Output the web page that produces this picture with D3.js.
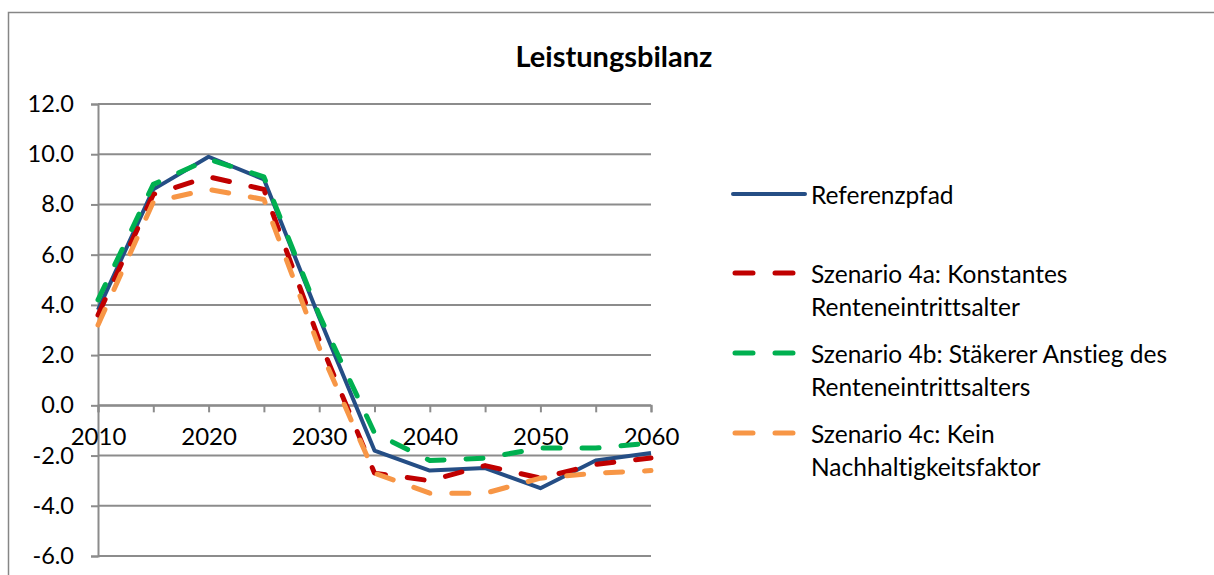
<!DOCTYPE html>
<html>
<head>
<meta charset="utf-8">
<script src="https://cdn.jsdelivr.net/npm/d3@7"></script>
<style>
  html, body { margin: 0; padding: 0; background: #fff; }
  svg { display: block; }
  text { font-family: Lato, "Open Sans", sans-serif; fill: #000; font-variant-ligatures: none; }
</style>
</head>
<body>
<svg id="chart" width="1214" height="575"></svg>
<script>
const years = [2010, 2015, 2020, 2025, 2030, 2035, 2040, 2045, 2050, 2055, 2060];
const xLabels = ["2010", "", "2020", "", "2030", "", "2040", "", "2050", "", "2060"];
const yTicks = [-6, -4, -2, 0, 2, 4, 6, 8, 10, 12];

const referenzpfad = [3.8, 8.6, 9.9, 9.0, 3.5, -1.8, -2.6, -2.5, -3.3, -2.2, -1.9];
const szenario4a   = [3.6, 8.4, 9.1, 8.6, 2.6, -2.7, -3.0, -2.4, -2.9, -2.35, -2.1];
const szenario4b   = [4.2, 8.8, 9.8, 9.1, 3.6, -1.1, -2.2, -2.1, -1.7, -1.7, -1.5];
const szenario4c   = [3.2, 8.1, 8.6, 8.2, 2.3, -2.7, -3.5, -3.5, -2.9, -2.7, -2.6];

const seriesNames = [
  ["Referenzpfad"],
  ["Szenario 4a: Konstantes", "Renteneintrittsalter"],
  ["Szenario 4b: Stäkerer Anstieg des", "Renteneintrittsalters"],
  ["Szenario 4c: Kein", "Nachhaltigkeitsfaktor"]
];
const seriesValues = [referenzpfad, szenario4a, szenario4b, szenario4c];
const seriesColors = ["#254E85", "#C00000", "#00B050", "#F79646"];
const seriesDashed = [false, true, true, true];

(function () {
const svg = d3.select("#chart");

// outer chart border
svg.append("rect").attr("x", 8.5).attr("y", 12.5).attr("width", 1214).attr("height", 600)
  .attr("fill", "#fff").attr("stroke", "#868686").attr("stroke-width", 1.5);

const pLeft = 98, pRight = 651, pTop = 104, pBottom = 556;

const x = d3.scalePoint().domain(years).range([pLeft, pRight]).padding(0);
const y = d3.scaleLinear().domain([-6, 12]).range([pBottom, pTop]);

// title
svg.append("text").attr("x", 614).attr("y", 55)
  .attr("text-anchor", "middle").attr("dominant-baseline", "central")
  .style("font-size", "29px").style("font-weight", "bold")
  .text("Leistungsbilanz");

// gridlines
svg.append("g").selectAll("line").data(yTicks).join("line")
  .attr("x1", pLeft).attr("x2", pRight)
  .attr("y1", d => y(d)).attr("y2", d => y(d))
  .attr("stroke", "#8c8c8c").attr("stroke-width", 2);

// y axis
const yAxis = svg.append("g").attr("transform", `translate(${pLeft},0)`)
  .call(d3.axisLeft(y).tickValues(yTicks).tickSize(7).tickPadding(17).tickFormat(d => d.toFixed(1)));
yAxis.select(".domain").attr("stroke", "#8c8c8c").attr("stroke-width", 2);
yAxis.selectAll(".tick line").attr("stroke", "#8c8c8c").attr("stroke-width", 2);
yAxis.selectAll(".tick text").style("font-size", "23.5px").style("font-family", "Lato, sans-serif").attr("fill", "#000");

// x axis at 0
const xAxis = svg.append("g").attr("transform", `translate(0,${y(0)})`)
  .call(d3.axisBottom(x).tickSize(7).tickPadding(16).tickFormat((d, i) => xLabels[i]));
xAxis.select(".domain").attr("stroke", "#8c8c8c").attr("stroke-width", 2);
xAxis.selectAll(".tick line").attr("stroke", "#8c8c8c").attr("stroke-width", 2);
xAxis.selectAll(".tick text").style("font-size", "24px").style("font-family", "Lato, sans-serif").attr("fill", "#000");

// lines
const line = d3.line().x((d, i) => x(years[i])).y(d => y(d));
seriesValues.forEach((vals, k) => {
  svg.append("path").datum(vals)
    .attr("d", line)
    .attr("fill", "none")
    .attr("stroke", seriesColors[k])
    .attr("stroke-width", seriesDashed[k] ? 5 : 4)
    .attr("stroke-linecap", seriesDashed[k] ? "round" : "butt")
    .attr("stroke-linejoin", "round")
    .attr("stroke-dasharray", seriesDashed[k] ? "17,22" : null);
});

// legend
const legendY = [194, 273, 353, 433];
const legend = svg.append("g");
seriesNames.forEach((lines, k) => {
  const ly = legendY[k];
  if (seriesDashed[k]) {
    legend.append("line").attr("x1", 735).attr("x2", 795).attr("y1", ly).attr("y2", ly)
      .attr("stroke", seriesColors[k]).attr("stroke-width", 5)
      .attr("stroke-linecap", "round").attr("stroke-dasharray", "18,22");
  } else {
    legend.append("line").attr("x1", 733).attr("x2", 805).attr("y1", ly).attr("y2", ly)
      .attr("stroke", seriesColors[k]).attr("stroke-width", 4).attr("stroke-linecap", "round");
  }
  lines.forEach((t, j) => {
    legend.append("text").attr("x", 811).attr("y", ly + j * 33)
      .attr("dominant-baseline", "central")
      .style("font-size", "24.5px")
      .text(t);
  });
});
})();
</script>
</body>
</html>
